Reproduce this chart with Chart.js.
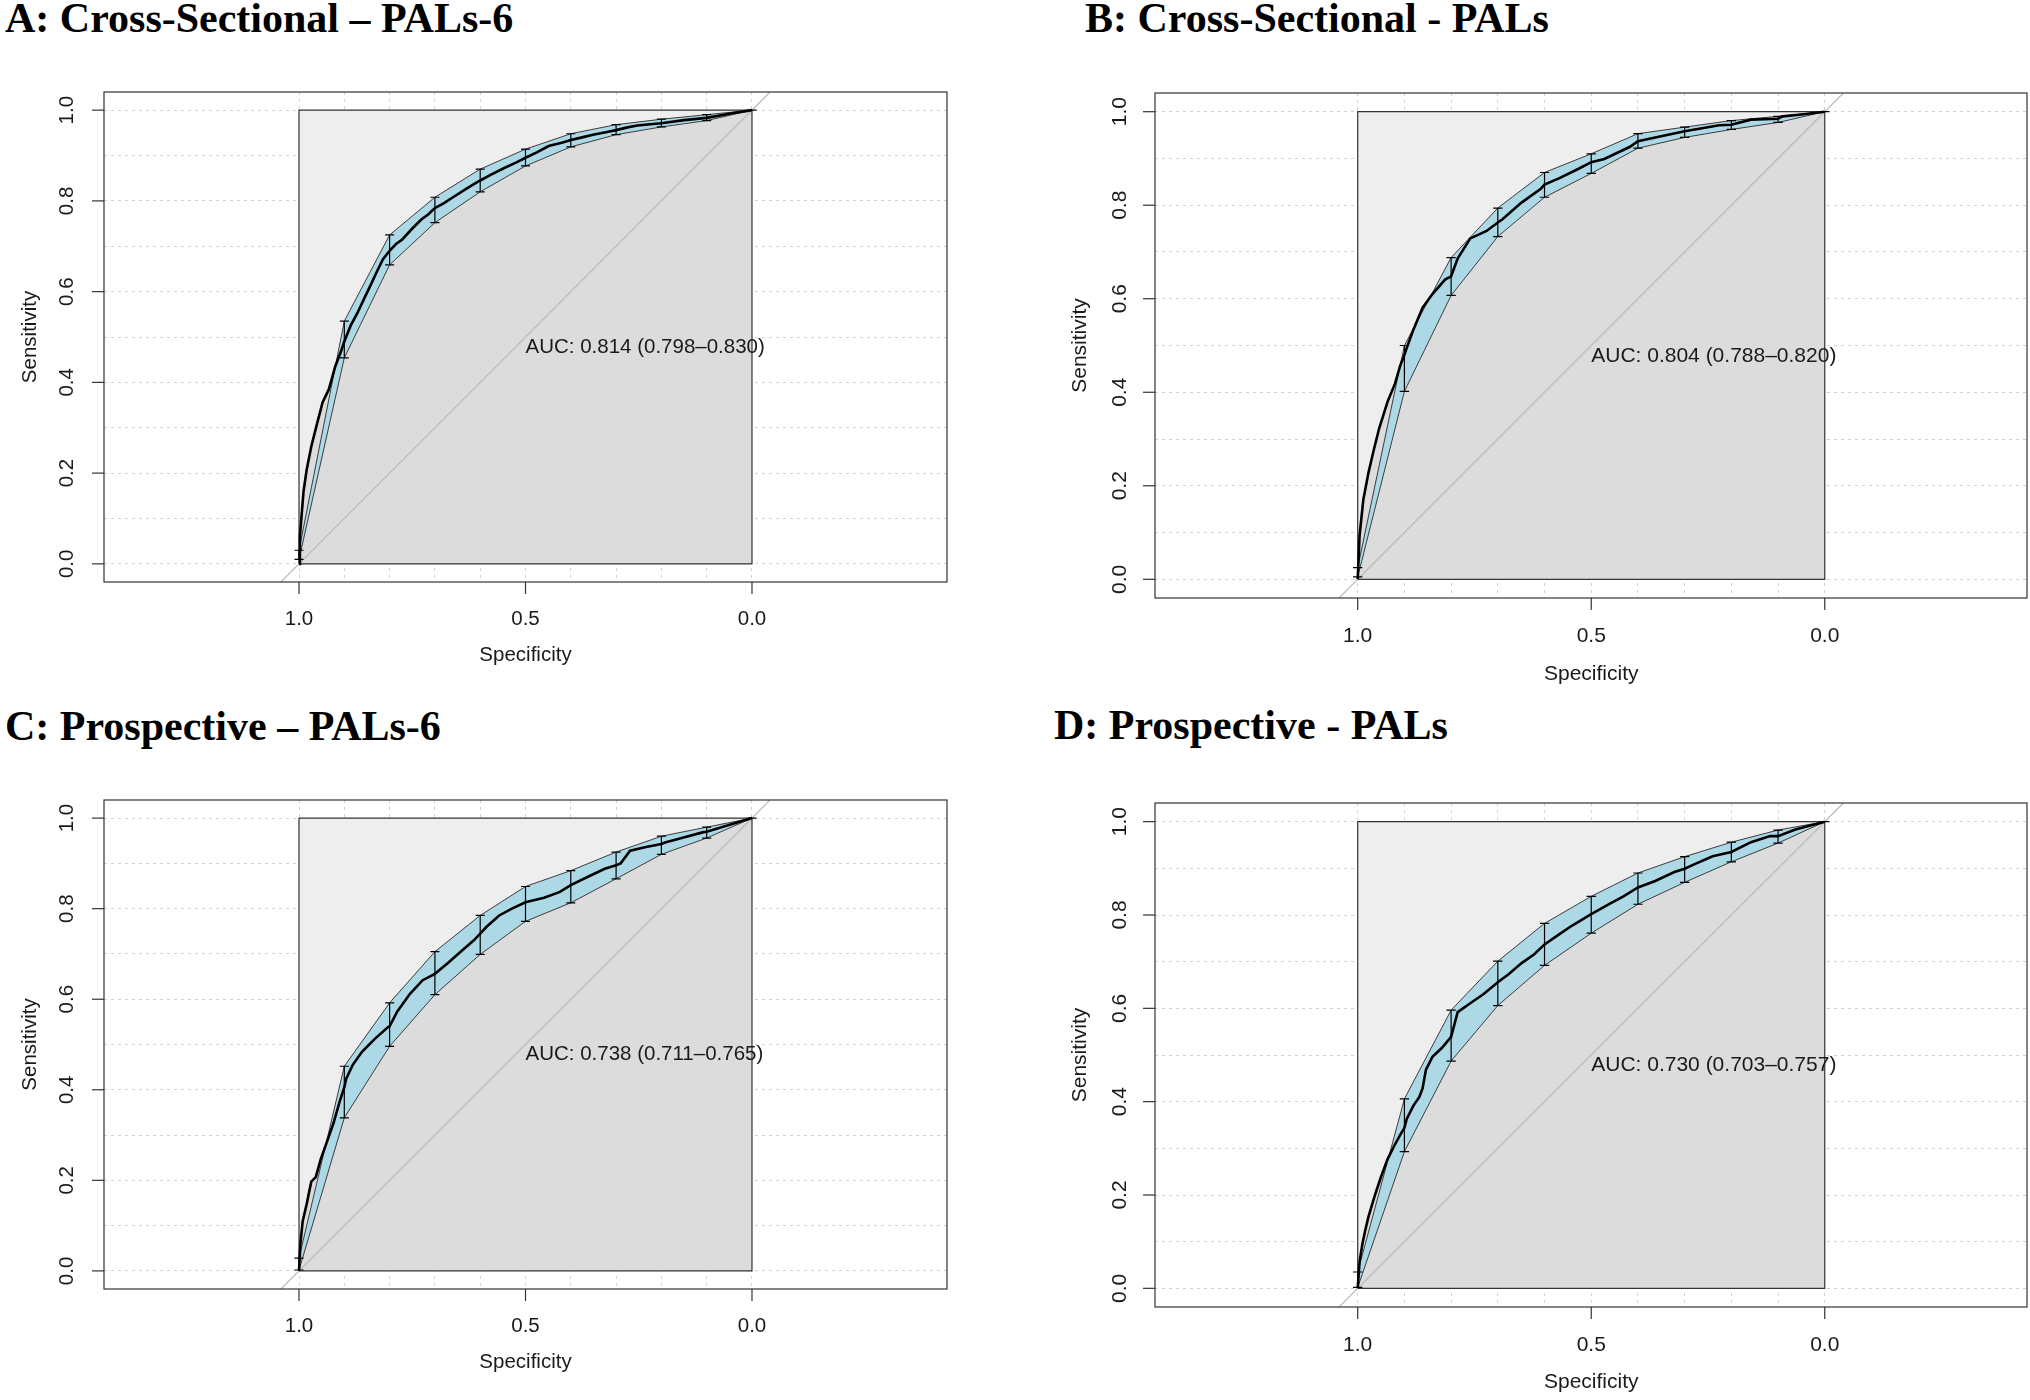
<!DOCTYPE html>
<html>
<head>
<meta charset="utf-8">
<script src="https://cdn.jsdelivr.net/npm/chart.js@4.4.1/dist/chart.umd.min.js"></script>
<style>
  html, body { margin: 0; padding: 0; background: #fff; }
  body { width: 2030px; height: 1400px; overflow: hidden; position: relative; }
  .panel { position: absolute; }
  .title { position: absolute; font: bold 42px "Liberation Serif", "Times New Roman", serif; line-height: 42px; color: #000; white-space: nowrap; }
</style>
</head>
<body>
<div class="title" style="left:5px; top:-3px;">A: Cross-Sectional – PALs-6</div>
<div class="title" style="left:1085px; top:-3px;">B: Cross-Sectional - PALs</div>
<div class="title" style="left:5px; top:705px;">C: Prospective – PALs-6</div>
<div class="title" style="left:1054px; top:704px;">D: Prospective - PALs</div>
<div class="panel" id="wrapA"><canvas id="chartA"></canvas></div>
<div class="panel" id="wrapB"><canvas id="chartB"></canvas></div>
<div class="panel" id="wrapC"><canvas id="chartC"></canvas></div>
<div class="panel" id="wrapD"><canvas id="chartD"></canvas></div>
<script>
// axis ticks and grid
const gridVals = [0, 0.1, 0.2, 0.3, 0.4, 0.5, 0.6, 0.7, 0.8, 0.9, 1];
const xTickVals = [1, 0.5, 0];
const xTickLabels = ['1.0', '0.5', '0.0'];
const yTickVals = [0, 0.2, 0.4, 0.6, 0.8, 1];
const yTickLabels = ['0.0', '0.2', '0.4', '0.6', '0.8', '1.0'];
const xTitle = 'Specificity';
const yTitle = 'Sensitivity';

// A: Cross-Sectional – PALs-6
const specA = [1, 0.998, 0.994, 0.99, 0.983, 0.973, 0.962, 0.948, 0.934, 0.92, 0.906, 0.9, 0.886, 0.871, 0.857, 0.843, 0.829, 0.815, 0.8, 0.786, 0.772, 0.751, 0.73, 0.715, 0.7, 0.68, 0.66, 0.632, 0.604, 0.6, 0.576, 0.548, 0.52, 0.5, 0.475, 0.449, 0.42, 0.4, 0.375, 0.351, 0.32, 0.3, 0.275, 0.253, 0.225, 0.2, 0.15, 0.1, 0.05, 0];
const sensA = [0, 0.06, 0.11, 0.16, 0.208, 0.258, 0.302, 0.356, 0.385, 0.435, 0.472, 0.49, 0.525, 0.553, 0.583, 0.612, 0.642, 0.671, 0.69, 0.705, 0.715, 0.738, 0.759, 0.77, 0.784, 0.795, 0.808, 0.826, 0.843, 0.845, 0.858, 0.872, 0.885, 0.895, 0.907, 0.921, 0.928, 0.934, 0.94, 0.946, 0.952, 0.956, 0.962, 0.966, 0.969, 0.971, 0.978, 0.983, 0.992, 1];

// B: Cross-Sectional - PALs
const specB = [1, 0.996, 0.988, 0.977, 0.966, 0.954, 0.936, 0.92, 0.909, 0.9, 0.895, 0.881, 0.861, 0.84, 0.813, 0.8, 0.786, 0.759, 0.724, 0.7, 0.69, 0.65, 0.608, 0.6, 0.568, 0.527, 0.5, 0.472, 0.417, 0.4, 0.363, 0.3, 0.226, 0.2, 0.158, 0.1, 0.09, 0.05, 0];
const sensB = [0, 0.094, 0.17, 0.228, 0.275, 0.323, 0.38, 0.419, 0.457, 0.48, 0.495, 0.533, 0.581, 0.61, 0.641, 0.648, 0.686, 0.729, 0.745, 0.763, 0.77, 0.805, 0.835, 0.844, 0.858, 0.878, 0.892, 0.899, 0.925, 0.937, 0.945, 0.958, 0.971, 0.972, 0.983, 0.985, 0.99, 0.994, 1];

// C: Prospective – PALs-6
const specC = [1, 0.997, 0.992, 0.983, 0.973, 0.963, 0.952, 0.938, 0.924, 0.91, 0.9, 0.896, 0.882, 0.861, 0.832, 0.804, 0.8, 0.783, 0.755, 0.727, 0.7, 0.67, 0.642, 0.614, 0.6, 0.586, 0.558, 0.53, 0.5, 0.459, 0.424, 0.4, 0.361, 0.325, 0.3, 0.29, 0.269, 0.234, 0.2, 0.192, 0.149, 0.107, 0.1, 0.051, 0];
const sensC = [0, 0.059, 0.109, 0.148, 0.197, 0.207, 0.247, 0.286, 0.326, 0.375, 0.405, 0.424, 0.454, 0.484, 0.513, 0.538, 0.54, 0.573, 0.612, 0.642, 0.656, 0.681, 0.706, 0.73, 0.745, 0.76, 0.785, 0.8, 0.814, 0.824, 0.837, 0.852, 0.871, 0.888, 0.896, 0.9, 0.928, 0.936, 0.943, 0.946, 0.958, 0.969, 0.97, 0.985, 1];

// D: Prospective - PALs
const specD = [1, 0.996, 0.99, 0.984, 0.977, 0.963, 0.95, 0.936, 0.922, 0.909, 0.9, 0.895, 0.881, 0.868, 0.861, 0.854, 0.84, 0.82, 0.8, 0.786, 0.759, 0.731, 0.7, 0.677, 0.649, 0.622, 0.6, 0.568, 0.54, 0.5, 0.459, 0.431, 0.4, 0.363, 0.322, 0.3, 0.281, 0.24, 0.2, 0.158, 0.117, 0.1, 0.063, 0];
const sensD = [0, 0.057, 0.095, 0.124, 0.153, 0.2, 0.239, 0.277, 0.305, 0.329, 0.344, 0.363, 0.391, 0.41, 0.429, 0.468, 0.496, 0.515, 0.539, 0.592, 0.611, 0.63, 0.656, 0.673, 0.697, 0.716, 0.737, 0.759, 0.778, 0.802, 0.825, 0.84, 0.859, 0.873, 0.892, 0.899, 0.908, 0.926, 0.935, 0.956, 0.969, 0.969, 0.983, 1];

// sensitivity confidence intervals at fixed specificities
const ciSpec = [1, 0.9, 0.8, 0.7, 0.6, 0.5, 0.4, 0.3, 0.2, 0.1, 0];
const ciLoA = [0.01, 0.454, 0.659, 0.752, 0.82, 0.877, 0.919, 0.946, 0.963, 0.977, 1];
const ciHiA = [0.03, 0.535, 0.725, 0.808, 0.87, 0.914, 0.948, 0.968, 0.98, 0.99, 1];
const ciLoB = [0.005, 0.402, 0.607, 0.733, 0.817, 0.868, 0.922, 0.945, 0.962, 0.977, 1];
const ciHiB = [0.025, 0.5, 0.688, 0.794, 0.87, 0.91, 0.953, 0.967, 0.981, 0.99, 1];
const ciLoC = [0.002, 0.338, 0.496, 0.61, 0.699, 0.772, 0.813, 0.866, 0.92, 0.956, 1];
const ciHiC = [0.028, 0.452, 0.592, 0.705, 0.785, 0.849, 0.884, 0.925, 0.96, 0.98, 1];
const ciLoD = [0.002, 0.293, 0.487, 0.606, 0.692, 0.761, 0.823, 0.87, 0.914, 0.954, 1];
const ciHiD = [0.035, 0.406, 0.596, 0.701, 0.782, 0.84, 0.89, 0.925, 0.956, 0.982, 1];

// AUC labels, placed at (0.5, 0.5)
const aucLabels = ['AUC: 0.814 (0.798–0.830)', 'AUC: 0.804 (0.788–0.820)', 'AUC: 0.738 (0.711–0.765)', 'AUC: 0.730 (0.703–0.757)'];
const aucPos = [0.5, 0.5];

// layout of each panel (page pixels)
const panels = [
    { key: 'A', div: [0, 0, 1015, 700], box: [104, 92, 947, 582], xr: [-0.4305, 1.4305], font: 20.5, xLab: 37, xTit: 73, yLab: 37, yTit: 74,
      spec: specA, sens: sensA, lo: ciLoA, hi: ciHiA, auc: aucLabels[0] },
    { key: 'B', div: [1015, 0, 1020, 700], box: [1155, 93, 2027, 598], xr: [-0.433, 1.434], font: 21, xLab: 38.5, xTit: 76, yLab: 35, yTit: 75,
      spec: specB, sens: sensB, lo: ciLoB, hi: ciHiB, auc: aucLabels[1] },
    { key: 'C', div: [0, 700, 1015, 700], box: [104, 800, 947, 1289], xr: [-0.4305, 1.4305], font: 20.5, xLab: 37, xTit: 73, yLab: 37, yTit: 74,
      spec: specC, sens: sensC, lo: ciLoC, hi: ciHiC, auc: aucLabels[2] },
    { key: 'D', div: [1015, 700, 1020, 700], box: [1155, 803, 2027, 1307], xr: [-0.433, 1.434], font: 21, xLab: 38, xTit: 75, yLab: 35, yTit: 75,
      spec: specD, sens: sensD, lo: ciLoD, hi: ciHiD, auc: aucLabels[3] }
];
const yRange = [-0.04, 1.04];
const capHalf = 0.01;

// R-style box, ticks, labels and AUC text
const rAxes = {
    id: 'rAxes',
    afterDatasetsDraw(chart, args, opts) {
        const { ctx, chartArea: a, scales: { x, y } } = chart;
        ctx.save();
        ctx.strokeStyle = '#333';
        ctx.lineWidth = 1.2;
        ctx.strokeRect(a.left, a.top, a.right - a.left, a.bottom - a.top);

        ctx.fillStyle = '#1a1a1a';
        ctx.font = opts.font + 'px "Liberation Sans", Arial, sans-serif';
        ctx.textAlign = 'center';
        ctx.textBaseline = 'middle';
        xTickVals.forEach((v, i) => {
            const px = x.getPixelForValue(v);
            ctx.beginPath();
            ctx.moveTo(px, a.bottom);
            ctx.lineTo(px, a.bottom + 12);
            ctx.stroke();
            ctx.fillText(xTickLabels[i], px, a.bottom + opts.xLab);
        });
        ctx.fillText(xTitle, (x.getPixelForValue(xTickVals[0]) + x.getPixelForValue(xTickVals[2])) / 2, a.bottom + opts.xTit);

        yTickVals.forEach((v, i) => {
            const py = y.getPixelForValue(v);
            ctx.beginPath();
            ctx.moveTo(a.left, py);
            ctx.lineTo(a.left - 12, py);
            ctx.stroke();
            ctx.save();
            ctx.translate(a.left - opts.yLab, py);
            ctx.rotate(-Math.PI / 2);
            ctx.fillText(yTickLabels[i], 0, 0);
            ctx.restore();
        });
        ctx.save();
        ctx.translate(a.left - opts.yTit, (a.top + a.bottom) / 2);
        ctx.rotate(-Math.PI / 2);
        ctx.fillText(yTitle, 0, 0);
        ctx.restore();

        ctx.textAlign = 'left';
        ctx.fillText(opts.auc, x.getPixelForValue(aucPos[0]), y.getPixelForValue(aucPos[1]) + opts.font * 0.5);
        ctx.restore();
    }
};

function makeChart(p) {
    const wrap = document.getElementById('wrap' + p.key);
    wrap.style.left = p.div[0] + 'px';
    wrap.style.top = p.div[1] + 'px';
    wrap.style.width = p.div[2] + 'px';
    wrap.style.height = p.div[3] + 'px';

    const roc = p.spec.map((s, i) => ({ x: s, y: p.sens[i] }));
    const square = [{ x: 1, y: 0 }, { x: 1, y: 1 }, { x: 0, y: 1 }, { x: 0, y: 0 }, { x: 1, y: 0 }];
    const aucPoly = roc.concat([{ x: 0, y: 0 }]);
    const upper = ciSpec.map((s, i) => ({ x: s, y: p.hi[i] }));
    const lower = ciSpec.map((s, i) => ({ x: s, y: p.lo[i] })).reverse();
    const diag = [{ x: p.xr[1], y: 1 - p.xr[1] }, { x: p.xr[0], y: 1 - p.xr[0] }];
    const bars = [];
    ciSpec.forEach((s, i) => {
        bars.push({ x: s, y: p.lo[i] }, { x: s, y: p.hi[i] }, { x: s, y: null });
        bars.push({ x: s + capHalf, y: p.lo[i] }, { x: s - capHalf, y: p.lo[i] }, { x: s, y: null });
        bars.push({ x: s + capHalf, y: p.hi[i] }, { x: s - capHalf, y: p.hi[i] }, { x: s, y: null });
    });

    const base = { pointRadius: 0, tension: 0, spanGaps: false };
    return new Chart(document.getElementById('chart' + p.key), {
        type: 'line',
        data: {
            datasets: [
                { ...base, data: square, fill: 'shape', backgroundColor: '#EEEEEE', borderWidth: 0, order: 7 },
                { ...base, data: aucPoly, fill: 'shape', backgroundColor: '#DCDCDC', borderWidth: 0, order: 6 },
                { ...base, data: square, fill: false, borderColor: '#333333', borderWidth: 1.2, order: 5 },
                { ...base, data: diag, fill: false, borderColor: '#B8B8B8', borderWidth: 1.2, order: 4 },
                { ...base, data: upper.concat(lower), fill: 'shape', backgroundColor: '#ADD8E6', borderColor: '#3c3c3c', borderWidth: 1, order: 3 },
                { ...base, data: roc, fill: false, borderColor: '#000000', borderWidth: 2.6, order: 2 },
                { ...base, data: bars, fill: false, borderColor: '#000000', borderWidth: 1.2, order: 1 }
            ]
        },
        options: {
            responsive: true,
            maintainAspectRatio: false,
            animation: false,
            events: [],
            layout: {
                padding: {
                    left: p.box[0] - p.div[0],
                    top: p.box[1] - p.div[1],
                    right: p.div[0] + p.div[2] - p.box[2],
                    bottom: p.div[1] + p.div[3] - p.box[3]
                }
            },
            scales: {
                x: {
                    type: 'linear', min: p.xr[0], max: p.xr[1], reverse: true, bounds: 'data',
                    ticks: { display: false },
                    grid: { color: '#D2D2D2', lineWidth: 1, drawTicks: false },
                    border: { display: false, dash: [3, 4] },
                    afterBuildTicks: s => { s.ticks = gridVals.map(v => ({ value: v })); }
                },
                y: {
                    type: 'linear', min: yRange[0], max: yRange[1], bounds: 'data',
                    ticks: { display: false },
                    grid: { color: '#D2D2D2', lineWidth: 1, drawTicks: false },
                    border: { display: false, dash: [3, 4] },
                    afterBuildTicks: s => { s.ticks = gridVals.map(v => ({ value: v })); }
                }
            },
            plugins: {
                legend: { display: false },
                tooltip: { enabled: false },
                rAxes: { font: p.font, xLab: p.xLab, xTit: p.xTit, yLab: p.yLab, yTit: p.yTit, auc: p.auc }
            }
        },
        plugins: [rAxes]
    });
}

panels.forEach(makeChart);
</script>
</body>
</html>
